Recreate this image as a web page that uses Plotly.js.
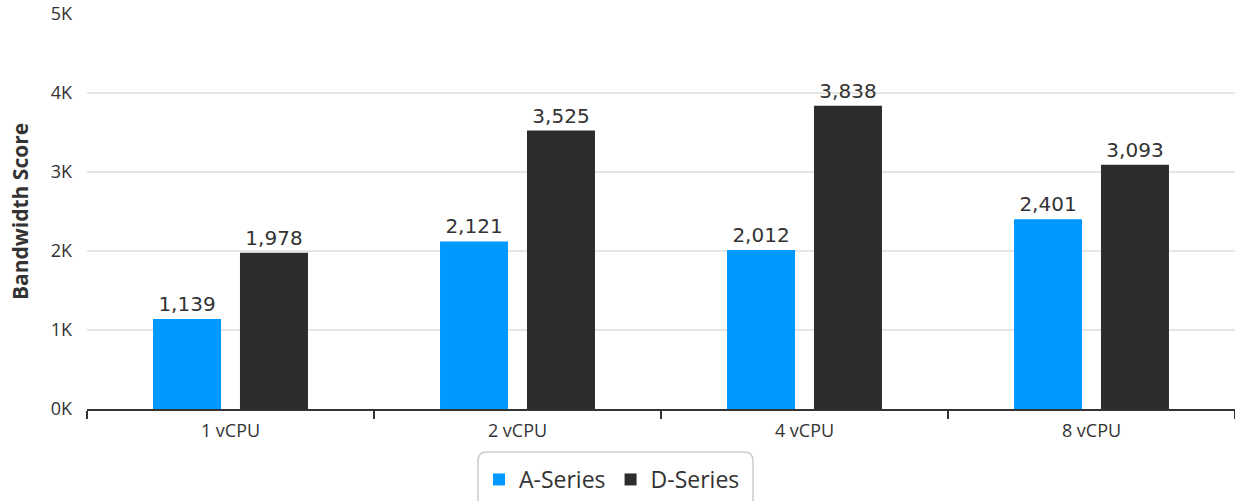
<!DOCTYPE html>
<html>
<head>
<meta charset="utf-8">
<script src="https://cdn.plot.ly/plotly-3.0.1.min.js"></script>
<style>
  html, body { margin: 0; padding: 0; background: #fff; }
  #chart { width: 1235px; height: 501px; }
</style>
</head>
<body>
<div id="chart"></div>
<script>
// Memory bandwidth score per VM size
const categories = ['1 vCPU', '2 vCPU', '4 vCPU', '8 vCPU'];
const aSeries = [1139, 2121, 2012, 2401];
const dSeries = [1978, 3525, 3838, 3093];
const yTickVals = [0, 1000, 2000, 3000, 4000, 5000];
const yTickText = ['0K', '1K', '2K', '3K', '4K', '5K'];

const W = 1235, H = 501;
const M = { l: 87, r: 0, t: 14, b: 91 };
const plotW = W - M.l - M.r, plotH = H - M.t - M.b;
const px = x => (x - M.l) / plotW;
const py = y => (H - M.b - y) / plotH;

const fmt = v => v.toLocaleString('en-US');
const labelFont = { family: 'DejaVu Sans', size: 20, color: '#333333' };

const traces = [
  {
    type: 'bar', name: 'A-Series', x: categories, y: aSeries,
    text: aSeries.map(fmt), textposition: 'outside', textangle: 0,
    textfont: labelFont, cliponaxis: false,
    marker: { color: '#0099ff' }, hoverinfo: 'x+y'
  },
  {
    type: 'bar', name: 'D-Series', x: categories, y: dSeries,
    text: dSeries.map(fmt), textposition: 'outside', textangle: 0,
    textfont: labelFont, cliponaxis: false,
    marker: { color: '#2e2c2d' }, hoverinfo: 'x+y'
  }
];

// rounded frame around the legend (paper coordinates)
function roundedRect(x0, y0, x1, y1, r) {
  const X0 = px(x0), X1 = px(x1), Y0 = py(y0), Y1 = py(y1);
  const rx = r / plotW, ry = r / plotH;
  return `M${X0 + rx},${Y0} L${X1 - rx},${Y0} Q${X1},${Y0} ${X1},${Y0 - ry} ` +
         `L${X1},${Y1 + ry} Q${X1},${Y1} ${X1 - rx},${Y1} L${X0 + rx},${Y1} ` +
         `Q${X0},${Y1} ${X0},${Y1 + ry} L${X0},${Y0 - ry} Q${X0},${Y0} ${X0 + rx},${Y0} Z`;
}

const tickFont = { family: 'Open Sans, sans-serif', size: 18, color: '#333333' };

const layout = {
  width: W, height: H,
  margin: M,
  paper_bgcolor: '#ffffff', plot_bgcolor: '#ffffff',
  font: { family: 'Open Sans, sans-serif', color: '#333333' },
  barmode: 'group',
  bargap: 0.394,
  bargroupgap: 0.218,
  showlegend: true,
  legend: {
    orientation: 'h', x: px(612), xanchor: 'center',
    y: py(481), yanchor: 'middle',
    font: { family: 'Open Sans, sans-serif', size: 23, color: '#333333' },
    bgcolor: 'rgba(0,0,0,0)', borderwidth: 0, itemclick: false
  },
  shapes: [{
    type: 'path', xref: 'paper', yref: 'paper',
    path: roundedRect(478, 453, 753, 512, 9),
    line: { color: '#cccccc', width: 1.5 }, fillcolor: 'rgba(0,0,0,0)'
  }],
  xaxis: {
    type: 'category', range: [-0.5, 3.5], fixedrange: true,
    showline: true, linecolor: '#333333', linewidth: 2,
    ticks: 'outside', tickson: 'boundaries', ticklen: 8,
    tickcolor: '#333333', tickwidth: 2,
    ticklabelstandoff: 4,
    showgrid: false,
    tickfont: tickFont
  },
  yaxis: {
    range: [0, 5000], fixedrange: true,
    tickvals: yTickVals, ticktext: yTickText,
    showgrid: true, gridcolor: '#e6e6e6', gridwidth: 1.5,
    zeroline: false, showline: false, ticks: '',
    ticklabelstandoff: 14,
    tickfont: tickFont,
    title: {
      text: 'Bandwidth Score', standoff: 16,
      font: { family: 'Open Sans, sans-serif', size: 21, color: '#333333', weight: 'bold' }
    }
  }
};

Plotly.newPlot('chart', traces, layout, { displayModeBar: false, staticPlot: true });
</script>
</body>
</html>
